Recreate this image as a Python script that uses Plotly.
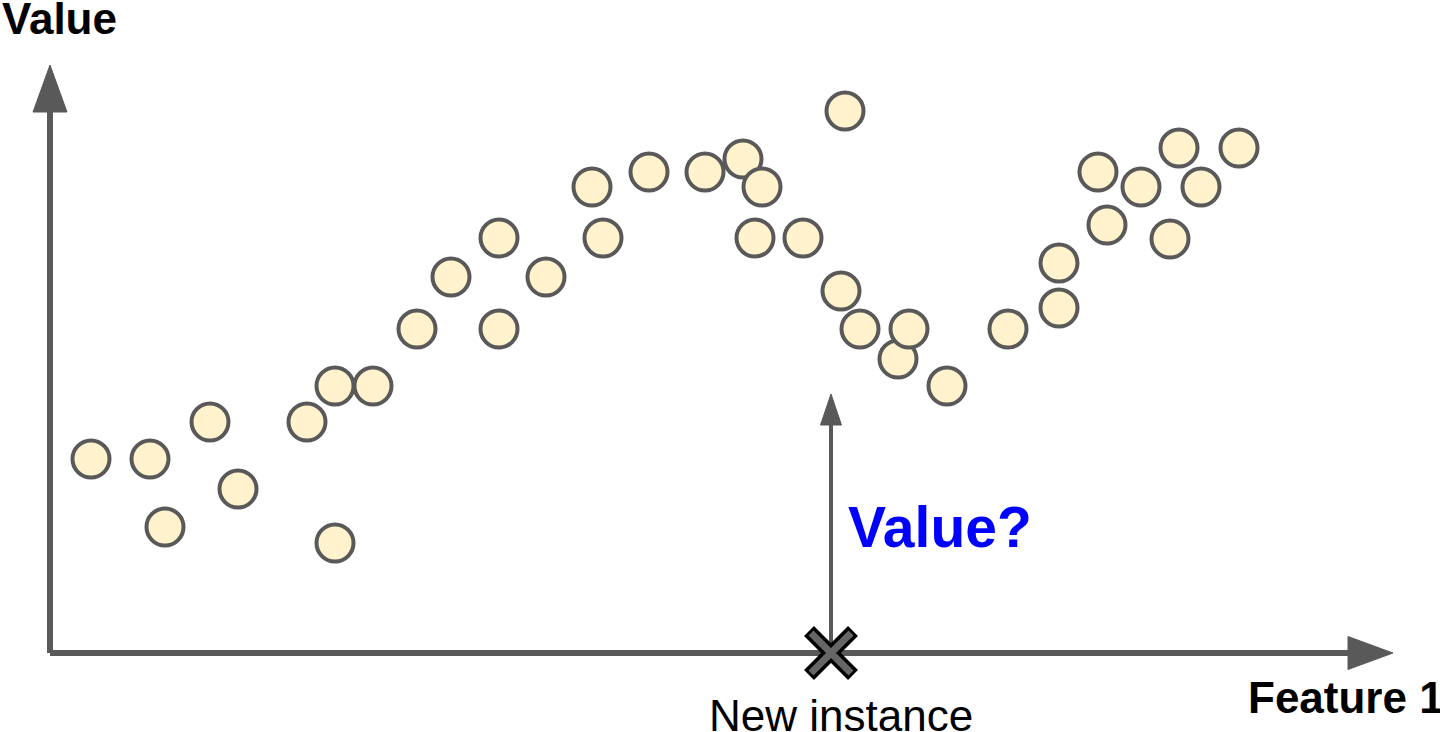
import plotly.graph_objects as go

# feature value (x) and target value (y) of each training instance, axis origin at (0, 0)
feature_1 = [41, 100, 115, 160, 188, 257, 285, 285, 323, 367, 401, 449, 449, 496, 542, 553,
             599, 655, 693, 712, 705, 753, 795, 791, 810, 848, 859, 897, 958, 1009, 1009,
             1048, 1057, 1091, 1120, 1129, 1151, 1189]
value = [194, 194, 126, 231, 164, 231, 267, 110, 267, 324, 376, 415, 324, 376, 466, 415,
         481, 481, 494, 466, 415, 415, 542, 362, 324, 294, 324, 267, 324, 390, 345,
         481, 428, 466, 414, 505, 466, 505]

new_instance_x = [781]
new_instance_y = [0]

x_label = "Feature 1"
y_label = "Value"
question = "Value?"
new_label = "New instance"

gray = "#595959"

# axis arrows (diagram frame)
x_end, y_end = 1298, 541
x_tip, y_tip = 1343, 588
q_base, q_tip = 228, 259


def head(cx, cy, tip, half, horizontal):
    if horizontal:
        return f"M {cx},{cy - half} L {tip},{cy} L {cx},{cy + half} Z"
    return f"M {cx - half},{cy} L {cx},{tip} L {cx + half},{cy} Z"


shapes = [
    dict(type="line", x0=0, y0=0, x1=x_end, y1=0, line=dict(color=gray, width=6), layer="below"),
    dict(type="line", x0=0, y0=0, x1=0, y1=y_end, line=dict(color=gray, width=6), layer="below"),
    dict(type="path", path=head(x_end, 0, x_tip, 16.5, True), fillcolor=gray,
         line=dict(color=gray, width=1), layer="below"),
    dict(type="path", path=head(0, y_end, y_tip, 17, False), fillcolor=gray,
         line=dict(color=gray, width=1), layer="below"),
    dict(type="line", x0=new_instance_x[0], y0=0, x1=new_instance_x[0], y1=q_base,
         line=dict(color=gray, width=4), layer="below"),
    dict(type="path", path=head(new_instance_x[0], q_base, q_tip, 10.5, False), fillcolor=gray,
         line=dict(color=gray, width=1), layer="below"),
]

fig = go.Figure()
fig.add_trace(go.Scatter(
    x=feature_1, y=value, mode="markers",
    marker=dict(size=37, color="#FFF2CC", line=dict(color=gray, width=4)),
    hoverinfo="skip"))
fig.add_trace(go.Scatter(
    x=new_instance_x, y=new_instance_y, mode="markers",
    marker=dict(symbol="x-thin", size=44, color="black", line=dict(color="black", width=14)),
    hoverinfo="skip"))
fig.add_trace(go.Scatter(
    x=new_instance_x, y=new_instance_y, mode="markers",
    marker=dict(symbol="x-thin", size=40, color="#666666", line=dict(color="#666666", width=7)),
    hoverinfo="skip"))

annotations = [
    dict(x=-48, y=635, xshift=-2, text=f"<b>{y_label}</b>", xanchor="left", yanchor="middle",
         font=dict(size=44, color="black")),
    dict(x=1196, y=-44, text=f"<b>{x_label}</b>", xanchor="left", yanchor="middle",
         font=dict(size=44, color="black")),
    dict(x=796, y=126, text=f"<b>{question}</b>", xanchor="left", yanchor="middle",
         font=dict(size=57, color="#0000FF")),
    dict(x=791, y=-62, text=new_label, xanchor="center", yanchor="middle",
         font=dict(size=44, color="black")),
]
for a in annotations:
    a.update(showarrow=False, xref="x", yref="y")

fig.update_layout(
    width=1440, height=732,
    margin=dict(l=0, r=0, t=0, b=0),
    paper_bgcolor="white", plot_bgcolor="white",
    showlegend=False,
    font=dict(family="Liberation Sans, Arial, sans-serif"),
    shapes=shapes, annotations=annotations,
    xaxis=dict(range=[-50, 1390], visible=False, fixedrange=True),
    yaxis=dict(range=[-79, 653], visible=False, fixedrange=True),
)

# drop the default 8px body margin so the figure fills the window
fig.write_html("out.html", config={"displayModeBar": False},
               post_script="document.body.style.margin = '0';")
